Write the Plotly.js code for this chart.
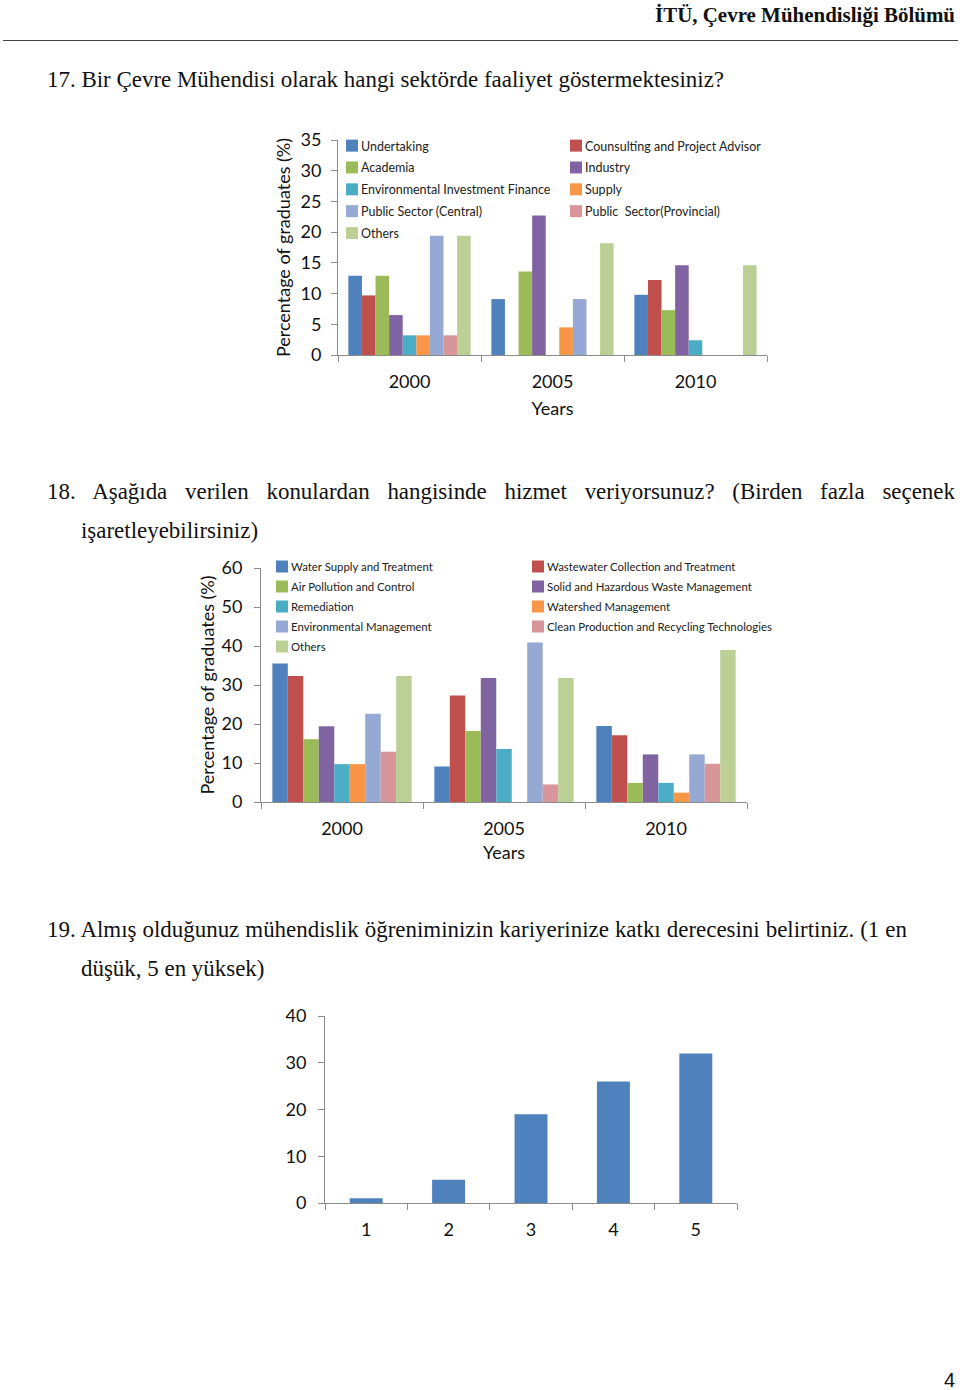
<!DOCTYPE html>
<html>
<head>
<meta charset="utf-8">
<script src="https://cdn.plot.ly/plotly-3.0.1.min.js"></script>
<style>
  html, body { margin:0; padding:0; background:#fff; }
  body { width:960px; height:1390px; position:relative; overflow:hidden; }
  .t { position:absolute; font-family:"Liberation Serif","Times New Roman",serif; font-size:24px; line-height:24px; color:#111; white-space:nowrap; transform-origin:left top; }
  .hdr { font-weight:bold; font-size:22px; line-height:22px; }
  .chart { position:absolute; left:0; width:960px; }
</style>
</head>
<body>
<div class="t hdr" id="hdr" style="left:655px; top:4px;">İTÜ, Çevre Mühendisliği Bölümü</div>
<div style="position:absolute; left:3px; top:40px; width:955px; height:1px; background:#444;"></div>
<div class="t" id="l17" style="left:47px; top:67px;">17. Bir Çevre Mühendisi olarak hangi sektörde faaliyet göstermektesiniz?</div>
<div class="t" id="l18a" style="left:47px; top:479px; text-align:justify; text-align-last:justify;">18. Aşağıda verilen konulardan hangisinde hizmet veriyorsunuz? (Birden fazla seçenek</div>
<div class="t" id="l18b" style="left:81px; top:518px;">işaretleyebilirsiniz)</div>
<div class="t" id="l19a" style="left:47px; top:917px; text-align:justify; text-align-last:justify;">19. Almış olduğunuz mühendislik öğreniminizin kariyerinize katkı derecesini belirtiniz. (1 en</div>
<div class="t" id="l19b" style="left:81px; top:956px;">düşük, 5 en yüksek)</div>
<div class="t" id="pg" style="left:944px; top:1370px; font-family:'Liberation Sans',sans-serif; font-size:20px; line-height:20px;">4</div>

<div class="chart" id="c1" style="top:110px; height:320px;"></div>
<div class="chart" id="c2" style="top:550px; height:320px;"></div>
<div class="chart" id="c3" style="top:990px; height:260px;"></div>

<script>
// ---------- DATA ----------
const years = ['2000', '2005', '2010'];

// Question 17: sector of activity (% of graduates)
const sectorNames = ['Undertaking', 'Counsulting and Project Advisor', 'Academia', 'Industry',
  'Environmental Investment Finance', 'Supply', 'Public Sector (Central)', 'Public  Sector(Provincial)', 'Others'];
const undertaking      = [12.9, 9.1, 9.8];
const counsulting      = [9.7, 0, 12.2];
const academia         = [12.9, 13.6, 7.3];
const industry         = [6.5, 22.7, 14.6];
const envInvestment    = [3.2, 0, 2.4];
const supply           = [3.2, 4.5, 0];
const publicCentral    = [19.4, 9.1, 0];
const publicProvincial = [3.2, 0, 0];
const othersSector     = [19.4, 18.2, 14.6];

// Question 18: fields of service (% of graduates)
const fieldNames = ['Water Supply and Treatment', 'Wastewater Collection and Treatment', 'Air Pollution and Control',
  'Solid and Hazardous Waste Management', 'Remediation', 'Watershed Management', 'Environmental Management',
  'Clean Production and Recycling Technologies', 'Others'];
const waterSupply      = [35.5, 9.1, 19.5];
const wastewater       = [32.3, 27.3, 17.1];
const airPollution     = [16.1, 18.2, 4.9];
const solidWaste       = [19.4, 31.8, 12.2];
const remediation      = [9.7, 13.6, 4.9];
const watershed        = [9.7, 0, 2.4];
const envManagement    = [22.6, 40.9, 12.2];
const cleanProduction  = [12.9, 4.5, 9.8];
const othersField      = [32.3, 31.8, 39.0];

// Question 19: contribution rating
const ratings = ['1', '2', '3', '4', '5'];
const contribution = [1, 5, 19, 26, 32];

// ---------- STYLE ----------
const palette = ['#4F81BD', '#C0504D', '#9BBB59', '#8064A2', '#4BACC6', '#F79646', '#95A9D4', '#D9969A', '#BCD095'];
const chartFont = 'Lato, "Open Sans", sans-serif';
const axisGray = '#8C8C8C';

// ---------- TEXT FITTING ----------
function measure(el) { return el.getBoundingClientRect().width; }
const l17 = document.getElementById('l17');
const s = 677 / measure(l17);
function applyScale(el, f) { el.style.transform = 'scaleX(' + f + ')'; }
applyScale(l17, s);
['l18b', 'l19b'].forEach(id => applyScale(document.getElementById(id), s));
const l18a = document.getElementById('l18a');
l18a.style.width = (908 / s) + 'px'; applyScale(l18a, s);
const l19a = document.getElementById('l19a');
l19a.style.width = (860 / s) + 'px'; applyScale(l19a, s);
const hdr = document.getElementById('hdr');
applyScale(hdr, 300 / measure(hdr));

// ---------- CHART HELPERS ----------
function groupedBars(names, series) {
  return series.map((vals, i) => ({
    type: 'bar', x: years, y: vals, name: names[i],
    marker: { color: palette[i], line: { width: 0 } },
    legend: (i % 2 === 1) ? 'legend2' : 'legend',
    legendgroup: 'g' + i,
    hoverinfo: 'none'
  }));
}

function baseLayout(o) {
  return {
    width: 960, height: o.height,
    margin: { l: o.l, r: o.r, t: o.t, b: o.b, autoexpand: false },
    paper_bgcolor: 'rgba(0,0,0,0)', plot_bgcolor: 'rgba(0,0,0,0)',
    font: { family: chartFont, color: '#111' },
    barmode: 'group', bargap: o.bargap, bargroupgap: 0,
    xaxis: {
      type: 'category', showline: true, linecolor: axisGray, linewidth: 1,
      ticks: 'outside', tickson: 'boundaries', ticklen: 6, tickcolor: axisGray,
      tickfont: { size: o.tickSize, family: chartFont, color: '#111' },
      ticklabelstandoff: o.xStandoff, showgrid: false, zeroline: false, fixedrange: true,
      title: o.xTitle ? { text: o.xTitle, font: { size: o.tickSize, family: chartFont, color: '#111' }, standoff: o.xTitleStandoff } : { text: '' }
    },
    yaxis: {
      range: o.yRange, dtick: o.dtick, showline: true, linecolor: axisGray, linewidth: 1,
      ticks: 'outside', ticklen: 6, tickcolor: axisGray,
      tickfont: { size: o.tickSize, family: chartFont, color: '#111' },
      ticklabelstandoff: o.yStandoff, showgrid: false, zeroline: false, fixedrange: true,
      title: o.yTitle ? { text: o.yTitle, font: { size: o.tickSize, family: chartFont, color: '#111' }, standoff: o.yTitleStandoff } : { text: '' }
    },
    showlegend: !!o.legend
  };
}

// pull legend labels closer to their swatches (Excel-like spacing); idempotent
function tightenLegend(id, dx) {
  document.querySelectorAll('#' + id + ' text.legendtext, #' + id + ' text.legend2text').forEach(t => {
    if (t.dataset.ox === undefined) t.dataset.ox = t.getAttribute('x') || '0';
    t.setAttribute('x', parseFloat(t.dataset.ox) - dx);
    t.querySelectorAll('tspan.line').forEach(sp => {
      if (sp.dataset.ox === undefined) sp.dataset.ox = sp.getAttribute('x') || '0';
      sp.setAttribute('x', parseFloat(sp.dataset.ox) - dx);
    });
  });
}
function tightenAll() { tightenLegend('c1', 11); tightenLegend('c2', 11); }

// ---------- CHART 1 ----------
const series1 = [undertaking, counsulting, academia, industry, envInvestment, supply, publicCentral, publicProvincial, othersSector];
const lay1 = baseLayout({ height: 320, l: 338, r: 193, t: 30, b: 75, bargap: 0.145, tickSize: 18,
  xStandoff: 10, yStandoff: 6, yRange: [0, 35], dtick: 5, xTitle: 'Years', xTitleStandoff: 11,
  yTitle: 'Percentage of graduates (%)', yTitleStandoff: 5, legend: true });
const leg1 = { font: { size: 12.5, family: chartFont, color: '#222' }, bgcolor: 'rgba(0,0,0,0)', yanchor: 'top', xanchor: 'left', tracegroupgap: 2.6, traceorder: 'grouped' };
lay1.legend = Object.assign({}, leg1, { x: (332 - 338) / 429, y: (355 - 131) / 215 });
lay1.legend2 = Object.assign({}, leg1, { x: (556 - 338) / 429, y: (355 - 131) / 215 });
const p1 = Plotly.newPlot('c1', groupedBars(sectorNames, series1), lay1, { staticPlot: true, displayModeBar: false });

// ---------- CHART 2 ----------
const series2 = [waterSupply, wastewater, airPollution, solidWaste, remediation, watershed, envManagement, cleanProduction, othersField];
const lay2 = baseLayout({ height: 320, l: 261, r: 213, t: 18, b: 68, bargap: 0.14, tickSize: 18,
  xStandoff: 10, yStandoff: 8, yRange: [0, 60], dtick: 10, xTitle: 'Years', xTitleStandoff: 8,
  yTitle: 'Percentage of graduates (%)', yTitleStandoff: 2, legend: true });
const leg2 = { font: { size: 11.4, family: chartFont, color: '#222' }, bgcolor: 'rgba(0,0,0,0)', yanchor: 'top', xanchor: 'left', tracegroupgap: 1, traceorder: 'grouped' };
lay2.legend = Object.assign({}, leg2, { x: (262 - 261) / 486, y: (802 - 552) / 234 });
lay2.legend2 = Object.assign({}, leg2, { x: (518 - 261) / 486, y: (802 - 552) / 234 });
const p2 = Plotly.newPlot('c2', groupedBars(fieldNames, series2), lay2, { staticPlot: true, displayModeBar: false });

// ---------- CHART 3 ----------
const lay3 = baseLayout({ height: 260, l: 325, r: 223, t: 26, b: 47, bargap: 0.6, tickSize: 18,
  xStandoff: 10, yStandoff: 8, yRange: [0, 40], dtick: 10, legend: false });
const p3 = Plotly.newPlot('c3', [{ type: 'bar', x: ratings, y: contribution, marker: { color: palette[0] }, hoverinfo: 'none', showlegend: false }],
  lay3, { staticPlot: true, displayModeBar: false });

Promise.all([p1, p2, p3]).then(() => {
  tightenAll();
  requestAnimationFrame(tightenAll);
  setTimeout(tightenAll, 30);
});
</script>
</body>
</html>
